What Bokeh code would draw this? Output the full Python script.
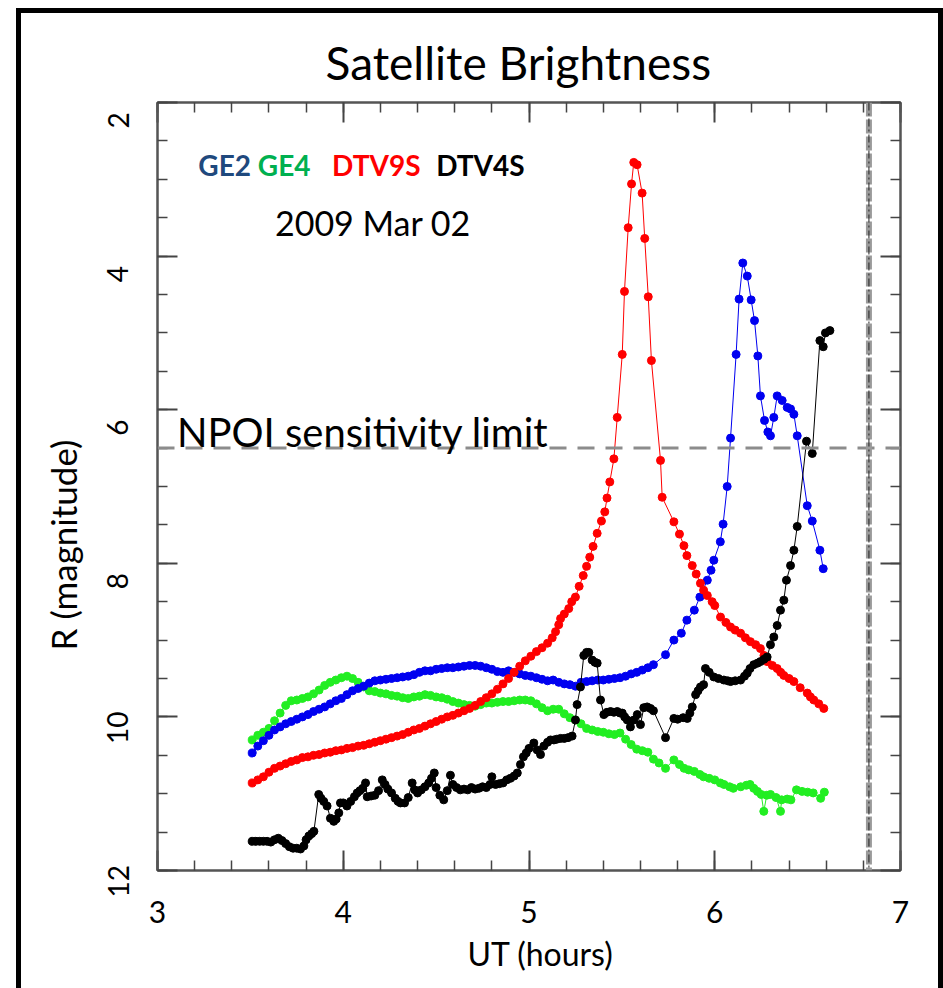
from bokeh.plotting import figure
from bokeh.models import Range1d, LinearAxis, Span, Label, FixedTicker, Title
from bokeh.embed import file_html
from bokeh.resources import INLINE

FONT = "Lato"

# ---------------- data ----------------
x_ticks = [3, 4, 5, 6, 7]
y_ticks = [2, 4, 6, 8, 10, 12]
y_tick_labels = ["2", "4", "6", "8", "10", "12"]
npoi_limit = 6.5
marker_time = 6.83

dtv9s_x = [3.51, 3.54, 3.57, 3.60, 3.63, 3.66, 3.69, 3.72, 3.75, 3.78, 3.81, 3.84, 3.87, 3.90,
           3.93, 3.96, 3.99, 4.02, 4.05, 4.08, 4.11, 4.14, 4.17, 4.20, 4.23, 4.26, 4.29, 4.32,
           4.35, 4.38, 4.41, 4.44, 4.47, 4.50, 4.53, 4.56, 4.59, 4.62, 4.65, 4.68, 4.71, 4.74,
           4.77, 4.80, 4.83, 4.86, 4.89, 4.92, 4.95, 4.98, 5.01, 5.04, 5.07, 5.10,
           5.125, 5.143, 5.16, 5.17, 5.19, 5.214, 5.23, 5.25, 5.27, 5.292, 5.31, 5.327, 5.345,
           5.367, 5.39, 5.408, 5.42, 5.435, 5.457, 5.475, 5.502, 5.514, 5.534, 5.552, 5.564,
           5.582, 5.609, 5.623, 5.642, 5.659, 5.708, 5.717, 5.78, 5.81, 5.834, 5.85, 5.879,
           5.90, 5.923, 5.94, 5.96, 5.986, 6.00, 6.031, 6.06, 6.085, 6.11, 6.139, 6.165, 6.192,
           6.22, 6.246, 6.265, 6.282, 6.31, 6.336, 6.355, 6.372, 6.40, 6.426, 6.46, 6.498,
           6.515, 6.533, 6.56, 6.587]
dtv9s_y = [10.86, 10.82, 10.78, 10.72, 10.67, 10.64, 10.61, 10.58, 10.56, 10.53, 10.52, 10.50,
           10.49, 10.47, 10.46, 10.44, 10.43, 10.41, 10.40, 10.38, 10.37, 10.35, 10.33, 10.31,
           10.29, 10.27, 10.25, 10.23, 10.20, 10.17, 10.15, 10.12, 10.09, 10.06, 10.03, 10.00,
           9.98, 9.95, 9.92, 9.89, 9.85, 9.80, 9.75, 9.70, 9.64, 9.57, 9.50, 9.42, 9.34, 9.27,
           9.21, 9.15, 9.10, 9.04,
           8.97, 8.89, 8.80, 8.72, 8.66, 8.59, 8.50, 8.44, 8.30, 8.16, 8.04, 7.92, 7.78,
           7.61, 7.45, 7.33, 7.15, 6.94, 6.64, 6.10, 5.28, 4.46, 3.63, 3.06, 2.78,
           2.81, 3.18, 3.77, 4.53, 5.36, 6.66, 7.14, 7.46, 7.62, 7.77, 7.90, 8.03,
           8.14, 8.26, 8.35, 8.42, 8.50, 8.55, 8.70, 8.77, 8.83, 8.87, 8.91, 8.97, 9.02,
           9.06, 9.11, 9.20, 9.28, 9.33, 9.37, 9.42, 9.46, 9.50, 9.54, 9.62, 9.69,
           9.74, 9.78, 9.83, 9.89]

ge2_x = [3.51, 3.54, 3.57, 3.60, 3.63, 3.66, 3.69, 3.72, 3.75, 3.78, 3.81, 3.84, 3.87, 3.90,
         3.93, 3.96, 3.99, 4.02, 4.05, 4.08, 4.11, 4.14, 4.17, 4.20, 4.23, 4.26, 4.29, 4.32,
         4.35, 4.38, 4.41, 4.44, 4.47, 4.50, 4.53, 4.56, 4.59, 4.62, 4.65, 4.68, 4.71, 4.74,
         4.77, 4.80, 4.83, 4.86, 4.89, 4.92, 4.95, 4.98, 5.01, 5.04, 5.07, 5.10, 5.13, 5.16,
         5.19, 5.22, 5.25, 5.28, 5.31, 5.34, 5.37, 5.40, 5.43, 5.46, 5.49, 5.52, 5.55, 5.58,
         5.61, 5.64, 5.67, 5.735, 5.78, 5.82, 5.85, 5.89, 5.92, 5.96, 5.98, 5.995, 6.03, 6.045,
         6.067, 6.085, 6.115, 6.131, 6.151, 6.175, 6.196, 6.214, 6.232, 6.246, 6.268, 6.286,
         6.30, 6.318, 6.336, 6.363, 6.39, 6.408, 6.426, 6.444, 6.498, 6.525, 6.566, 6.584]
ge2_y = [10.47, 10.38, 10.31, 10.24, 10.17, 10.13, 10.09, 10.06, 10.03, 10.00, 9.97, 9.93,
         9.90, 9.87, 9.83, 9.79, 9.76, 9.71, 9.66, 9.63, 9.60, 9.56, 9.53, 9.52, 9.51, 9.50,
         9.49, 9.48, 9.47, 9.45, 9.42, 9.40, 9.40, 9.38, 9.37, 9.36, 9.36, 9.35, 9.34, 9.33,
         9.33, 9.34, 9.36, 9.38, 9.41, 9.42, 9.40, 9.42, 9.44, 9.46, 9.47, 9.49, 9.51, 9.53,
         9.52, 9.55, 9.57, 9.58, 9.60, 9.55, 9.54, 9.53, 9.52, 9.52, 9.51, 9.50, 9.49, 9.47,
         9.44, 9.42, 9.39, 9.36, 9.32, 9.19, 9.00, 8.91, 8.74, 8.61, 8.44, 8.22, 8.09, 7.96,
         7.72, 7.49, 7.00, 6.37, 5.28, 4.56, 4.09, 4.26, 4.57, 4.84, 5.30, 5.82, 6.14, 6.29,
         6.34, 6.10, 5.82, 5.88, 5.97, 5.99, 6.06, 6.34, 7.25, 7.45, 7.83, 8.07]

ge4_x = [3.51, 3.54, 3.57, 3.60, 3.63, 3.66, 3.69, 3.72, 3.75, 3.78, 3.81, 3.84, 3.87, 3.90,
         3.93, 3.96, 3.99, 4.02, 4.05, 4.08, 4.11, 4.14, 4.17, 4.20, 4.23, 4.26, 4.29, 4.32,
         4.35, 4.38, 4.41, 4.44, 4.47, 4.50, 4.53, 4.56, 4.59, 4.62, 4.65, 4.68, 4.71, 4.74,
         4.77, 4.80, 4.83, 4.86, 4.89, 4.92, 4.95, 4.98, 5.01, 5.04, 5.07, 5.10, 5.13, 5.16,
         5.19, 5.22, 5.25, 5.28, 5.31, 5.34, 5.37, 5.40, 5.43, 5.46, 5.49, 5.52, 5.55, 5.58,
         5.61, 5.64, 5.67, 5.70, 5.735, 5.78, 5.81, 5.835, 5.86, 5.89, 5.92, 5.94, 5.97, 6.00,
         6.03, 6.05, 6.08, 6.10, 6.14, 6.17, 6.19, 6.21, 6.23, 6.25, 6.264, 6.28, 6.30, 6.33,
         6.354, 6.36, 6.39, 6.41, 6.44, 6.47, 6.50, 6.53, 6.57, 6.59]
ge4_y = [10.30, 10.24, 10.20, 10.15, 10.05, 9.95, 9.85, 9.79, 9.78, 9.76, 9.74, 9.70, 9.65,
         9.59, 9.55, 9.52, 9.49, 9.47, 9.50, 9.55, 9.61, 9.66, 9.67, 9.69, 9.70, 9.72, 9.73,
         9.75, 9.76, 9.74, 9.73, 9.71, 9.72, 9.74, 9.75, 9.77, 9.80, 9.82, 9.84, 9.85, 9.86,
         9.84, 9.82, 9.82, 9.81, 9.80, 9.80, 9.79, 9.78, 9.78, 9.79, 9.83, 9.88, 9.92, 9.90,
         9.90, 9.96, 10.01, 10.04, 10.09, 10.15, 10.17, 10.19, 10.20, 10.22, 10.23, 10.21,
         10.29, 10.36, 10.42, 10.44, 10.46, 10.55, 10.60, 10.67, 10.56, 10.62, 10.67, 10.69,
         10.71, 10.75, 10.78, 10.80, 10.82, 10.86, 10.88, 10.91, 10.93, 10.91, 10.89, 10.88,
         10.93, 10.97, 11.01, 11.23, 11.02, 11.01, 11.05, 11.23, 11.08, 11.07, 11.08, 10.95,
         10.97, 10.98, 10.99, 11.06, 10.98]

dtv4s_x = [3.51, 3.53, 3.55, 3.57, 3.59, 3.61, 3.63, 3.65, 3.67, 3.69, 3.71, 3.73, 3.75, 3.77,
           3.788, 3.80, 3.815, 3.83, 3.842, 3.868, 3.88, 3.895, 3.913, 3.931, 3.949, 3.962,
           3.976, 3.985, 4.00, 4.02, 4.04, 4.06, 4.075, 4.09, 4.105, 4.12, 4.129, 4.15, 4.17,
           4.19, 4.21, 4.225, 4.24, 4.26, 4.28, 4.295, 4.308, 4.33, 4.35, 4.371, 4.385, 4.40,
           4.42, 4.44, 4.46, 4.475, 4.49, 4.50, 4.52, 4.541, 4.56, 4.577, 4.59, 4.61, 4.63,
           4.65, 4.67, 4.69, 4.71, 4.73, 4.75, 4.77, 4.79, 4.80, 4.82, 4.84, 4.86, 4.88, 4.90,
           4.92, 4.937, 4.954, 4.97, 4.985, 5.00, 5.026, 5.044, 5.062, 5.08, 5.10, 5.116,
           5.134, 5.15, 5.17, 5.19, 5.21, 5.232, 5.25, 5.259, 5.277, 5.295, 5.31, 5.322, 5.34,
           5.355, 5.367, 5.385, 5.403, 5.42, 5.439, 5.457, 5.475, 5.49, 5.502, 5.515, 5.529,
           5.546, 5.565, 5.583, 5.60, 5.618, 5.636, 5.654, 5.67, 5.735, 5.78, 5.80, 5.83,
           5.852, 5.866, 5.879, 5.897, 5.91, 5.923, 5.94, 5.95, 5.97, 5.995, 6.02, 6.049, 6.07,
           6.085, 6.11, 6.139, 6.16, 6.175, 6.19, 6.21, 6.23, 6.246, 6.265, 6.282, 6.30, 6.318,
           6.336, 6.354, 6.372, 6.386, 6.408, 6.426, 6.444, 6.494, 6.525, 6.566, 6.584, 6.596,
           6.62]
dtv4s_y = [11.62, 11.62, 11.62, 11.62, 11.62, 11.63, 11.60, 11.58, 11.61, 11.65, 11.69, 11.71,
           11.71, 11.72, 11.68, 11.60, 11.55, 11.52, 11.49, 11.01, 11.06, 11.10, 11.16, 11.32,
           11.36, 11.33, 11.25, 11.12, 11.12, 11.16, 11.10, 11.04, 10.99, 10.96, 10.93, 10.86,
           11.04, 11.03, 11.02, 10.96, 10.82, 10.88, 10.94, 10.99, 11.06, 11.10, 11.12, 11.12,
           11.05, 10.86, 10.95, 10.99, 10.95, 10.91, 10.86, 10.80, 10.73, 10.92, 11.02, 11.08,
           10.96, 10.76, 10.88, 10.92, 10.95, 10.94, 10.95, 10.92, 10.94, 10.93, 10.91, 10.92,
           10.88, 10.78, 10.88, 10.87, 10.86, 10.82, 10.80, 10.77, 10.73, 10.62, 10.52, 10.47,
           10.41, 10.34, 10.43, 10.49, 10.38, 10.33, 10.30, 10.30, 10.29, 10.28, 10.28, 10.27,
           10.25, 10.04, 9.84, 9.61, 9.20, 9.16, 9.16, 9.26, 9.29, 9.30, 9.78, 9.97, 9.94,
           9.93, 9.94, 9.93, 9.95, 9.95, 10.00, 10.04, 10.13, 10.04, 9.97, 10.10, 9.88, 9.87,
           9.89, 9.92, 10.27, 10.02, 10.03, 10.01, 10.02, 9.95, 9.87, 9.71, 9.66, 9.61, 9.58,
           9.37, 9.42, 9.48, 9.50, 9.52, 9.53, 9.54, 9.53, 9.52, 9.47, 9.43, 9.37, 9.32, 9.30,
           9.28, 9.25, 9.22, 9.06, 8.96, 8.81, 8.61, 8.48, 8.22, 8.03, 7.83, 7.52, 6.41, 6.57,
           5.10, 5.18, 5.00, 4.97]

# ---------------- figure ----------------
W, H = 943, 988
p = figure(width=W, height=H, output_backend="svg", toolbar_location=None,
           x_range=Range1d(3, 7), y_range=Range1d(12, 2),
           min_border_left=157, min_border_right=43, min_border_top=102, min_border_bottom=118,
           background_fill_color="white", border_fill_color=None)
# outer black border of the picture (left, top and right edges)
p.styles = {
    "background-color": "white",
    "background-image": "linear-gradient(#000, #000), linear-gradient(#000, #000), "
                        "linear-gradient(#000, #000)",
    "background-size": "5px 990px, 927px 5px, 5px 990px",
    "background-position": "16px 8px, 16px 8px, 938px 8px",
    "background-repeat": "no-repeat",
}
p.grid.visible = False
p.outline_line_color = "#555555"
p.outline_line_width = 2

p.title.text = "Satellite Brightness"
p.title.align = "left"
p.title.offset = 168
p.title.text_font = FONT
p.title.text_font_size = "46px"
p.title.text_font_style = "normal"
p.title.text_color = "black"
p.title.standoff = 26

bottom_axis = p.below[0]
left_axis = p.left[0]
top_axis = LinearAxis()
right_axis = LinearAxis()
p.add_layout(top_axis, "above")
p.add_layout(right_axis, "right")

x_minor = [3 + 0.2 * i for i in range(21)]
y_minor = [2 + 0.5 * i for i in range(21)]

for ax, ticks, minor in [(bottom_axis, x_ticks, x_minor), (top_axis, x_ticks, x_minor),
                         (left_axis, y_ticks, y_minor), (right_axis, y_ticks, y_minor)]:
    ax.ticker = FixedTicker(ticks=ticks, minor_ticks=minor)
    ax.major_tick_in = 20
    ax.major_tick_out = 0
    ax.minor_tick_in = 10
    ax.minor_tick_out = 0
    ax.major_tick_line_color = "#444444"
    ax.major_tick_line_width = 2
    ax.minor_tick_line_color = "#444444"
    ax.minor_tick_line_width = 1.5
    ax.axis_line_color = "#555555"
    ax.axis_line_width = 2

for ax in (top_axis, right_axis):
    ax.major_label_text_font_size = "1px"
    ax.major_label_text_color = None
    ax.major_label_standoff = 0

bottom_axis.major_label_text_font = FONT
bottom_axis.major_label_text_font_size = "30px"
bottom_axis.major_label_text_color = "black"
bottom_axis.major_label_standoff = 30

# the reference draws the rotated y labels a little below their ticks
NB = "\u00a0"
pads = [5, 5, 5, 5, 3, 3]
left_axis.major_label_overrides = {t: lab + NB * n
                                   for t, lab, n in zip(y_ticks, y_tick_labels, pads)}
left_axis.major_label_text_font = FONT
left_axis.major_label_text_font_size = "28px"
left_axis.major_label_text_color = "black"
left_axis.major_label_orientation = "vertical"
left_axis.major_label_standoff = 23

# axis titles (placed like the reference, which is not centred on the frame)
p.add_layout(Title(text="R (magnitude)", align="left", offset=220, text_font=FONT,
                   text_font_size="35px", text_font_style="normal", text_color="black",
                   standoff=28), "left")
p.add_layout(Title(text="UT (hours)", align="left", offset=310, text_font=FONT,
                   text_font_size="32px", text_font_style="normal", text_color="black",
                   standoff=13), "below")

# reference lines
p.add_layout(Span(location=npoi_limit, dimension="width", line_color="#8c8c8c",
                  line_width=3, line_dash="17 11"))
p.add_layout(Span(location=marker_time, dimension="height", line_color="#9a9a9a",
                  line_width=6, line_dash="14 3"))
p.add_layout(Span(location=marker_time, dimension="height", line_color="#222222",
                  line_width=1, line_dash="8 3 2 3"))

# series
series = [(ge4_x, ge4_y, "#22ee22"), (ge2_x, ge2_y, "#0000f0"),
          (dtv9s_x, dtv9s_y, "#ff0000"), (dtv4s_x, dtv4s_y, "#000000")]
for xs, ys, col in series:
    p.line(xs, ys, line_color=col, line_width=1)
    p.scatter(xs, ys, size=8, fill_color=col, line_color=col)

# annotations
p.add_layout(Label(x=3.105, y=6.29, text="NPOI sensitivity limit", text_font=FONT,
                   text_font_size="40px", text_color="black", text_baseline="middle"))
legend_items = [(3.22, "GE2", "#1f497d"), (3.54, "GE4", "#00b050"),
                (3.94, "DTV9S", "#ff0000"), (4.50, "DTV4S", "#000000")]
for lx, txt, col in legend_items:
    p.add_layout(Label(x=lx, y=2.82, text=txt, text_font=FONT, text_font_size="28px",
                       text_font_style="bold", text_color=col, text_baseline="middle"))
p.add_layout(Label(x=4.16, y=3.56, text="2009 Mar 02", text_font=FONT,
                   text_font_size="34px", text_color="black", text_baseline="middle",
                   text_align="center"))

open("out.html", "w").write(file_html(p, INLINE))
